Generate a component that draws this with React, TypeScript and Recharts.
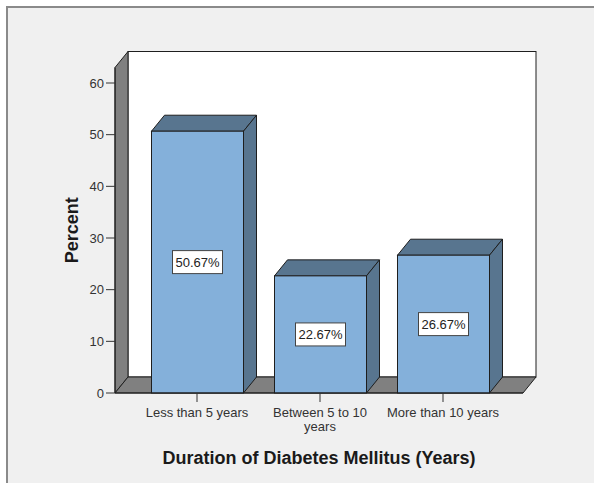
import React from 'react';
import { BarChart, Bar, XAxis, YAxis, ReferenceArea, LabelList, Label } from 'recharts';

const categories = ['Less than 5 years', 'Between 5 to 10 years', 'More than 10 years'];
const percents = [50.67, 22.67, 26.67];
const yTicks = [0, 10, 20, 30, 40, 50, 60];

const data = categories.map((name, i) => ({ name, percent: percents[i] }));

// depth offset used for the fake 3D look
const DX = 13;
const DY = 16;
const PAD_L = 20.5;
const PAD_R = 18.5;

const FONT = '"Liberation Sans", Arial, sans-serif';
const EDGE = '#1e1e1e';

// back panel, left wall and floor of the box
function Walls(props: any) {
  const { y, height } = props;
  const x = props.x - PAD_L;
  const w = props.width + PAD_L + PAD_R;
  const b = y + height;
  return (
    <g>
      <rect x={x + DX} y={y - DY} width={w} height={height} fill="#fff" stroke={EDGE} strokeWidth={1} />
      <polygon
        points={`${x},${y} ${x + DX},${y - DY} ${x + DX},${b - DY} ${x},${b}`}
        fill="#808080"
        stroke={EDGE}
      />
      <polygon
        points={`${x},${b} ${x + DX},${b - DY} ${x + w + DX},${b - DY} ${x + w},${b}`}
        fill="#808080"
        stroke={EDGE}
      />
    </g>
  );
}

function Bar3D(props: any) {
  const { x, y, width, height } = props;
  const r = x + width;
  const b = y + height;
  return (
    <g>
      <polygon points={`${x},${y} ${x + DX},${y - DY} ${r + DX},${y - DY} ${r},${y}`} fill="#58758f" stroke={EDGE} />
      <polygon points={`${r},${y} ${r + DX},${y - DY} ${r + DX},${b - DY} ${r},${b}`} fill="#58758f" stroke={EDGE} />
      <rect x={x} y={y} width={width} height={height} fill="#84b0da" stroke={EDGE} />
    </g>
  );
}

function wrap(text: string, max: number) {
  const lines: string[] = [];
  let cur = '';
  text.split(' ').forEach((word) => {
    const next = cur ? `${cur} ${word}` : word;
    if (next.length > max && cur) {
      lines.push(cur);
      cur = word;
    } else {
      cur = next;
    }
  });
  if (cur) lines.push(cur);
  return lines;
}

function CategoryTick(props: any) {
  const { x, y, payload } = props;
  const lines = wrap(String(payload.value), 18);
  return (
    <text x={x} y={y} textAnchor="middle" fontSize={13} fill="#333" fontFamily={FONT}>
      {lines.map((line, i) => (
        <tspan key={i} x={x} dy={i === 0 ? '0.71em' : 14}>
          {line}
        </tspan>
      ))}
    </text>
  );
}

function ValueBox(props: any) {
  const vb = props.viewBox ?? props;
  const x = vb.x ?? props.x;
  const y = vb.y ?? props.y;
  const width = vb.width ?? props.width;
  const height = vb.height ?? props.height;
  const cx = x + width / 2;
  const cy = y + height / 2;
  return (
    <g>
      <rect x={cx - 25} y={cy - 11.5} width={50} height={23} fill="#fff" stroke="#444" />
      <text x={cx} y={cy} dy="0.36em" textAnchor="middle" fontSize={13} fill="#222" fontFamily={FONT}>
        {`${Number(props.value).toFixed(2)}%`}
      </text>
    </g>
  );
}

export default function App() {
  return (
    <div style={{ position: 'absolute', left: 0, top: 0, width: 594, height: 483, background: '#fff', overflow: 'hidden' }}>
      <div
        style={{
          position: 'absolute',
          left: 6,
          top: 6,
          width: 620,
          height: 500,
          background: '#f0f0f0',
          borderTop: '2px solid #8a8a8a',
          borderLeft: '2px solid #8a8a8a',
        }}
      />
      <div style={{ position: 'absolute', left: 0, top: 0 }}>
        <BarChart
          width={594}
          height={483}
          data={data}
          margin={{ top: 67.5, right: 71, bottom: 0, left: 0 }}
          barSize={92}
        >
          <ReferenceArea y1={0} y2={63} shape={<Walls />} />
          <XAxis
            dataKey="name"
            height={90}
            padding={{ left: PAD_L, right: PAD_R }}
            tickSize={9}
            tickMargin={6}
            tick={<CategoryTick />}
            axisLine={{ stroke: EDGE }}
            tickLine={{ stroke: '#333' }}
            interval={0}
          >
            <Label
              value="Duration of Diabetes Mellitus (Years)"
              position="insideBottom"
              offset={19}
              style={{ fontFamily: FONT, fontSize: 18, fontWeight: 'bold', fill: '#1a1a1a' }}
            />
          </XAxis>
          <YAxis
            width={115}
            domain={[0, 63]}
            ticks={yTicks}
            tickSize={9}
            tickMargin={2}
            axisLine={{ stroke: EDGE }}
            tickLine={{ stroke: '#333' }}
            tick={{ fontSize: 13, fill: '#333', fontFamily: FONT }}
          >
            <Label
              value="Percent"
              angle={-90}
              position="insideLeft"
              offset={72}
              style={{ textAnchor: 'middle', fontFamily: FONT, fontSize: 18, fontWeight: 'bold', fill: '#1a1a1a' }}
            />
          </YAxis>
          <Bar dataKey="percent" shape={<Bar3D />} isAnimationActive={false}>
            <LabelList dataKey="percent" content={<ValueBox />} />
          </Bar>
        </BarChart>
      </div>
    </div>
  );
}
